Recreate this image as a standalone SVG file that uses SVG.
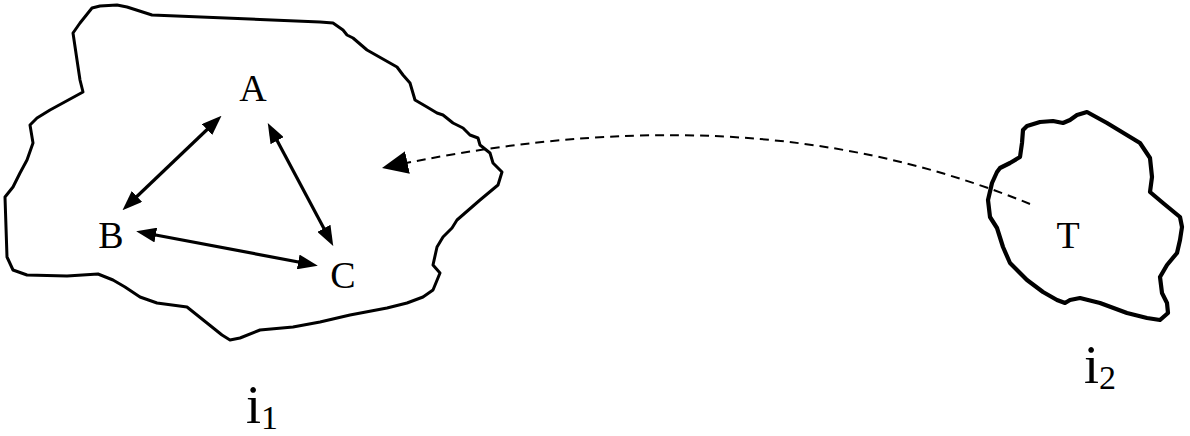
<svg xmlns="http://www.w3.org/2000/svg" width="1190" height="436" viewBox="0 0 1190 436">
<style>
.blob{fill:none;stroke:#000;stroke-linejoin:round;stroke-linecap:round}
.lbl{font-family:"Liberation Serif","Times New Roman",serif;fill:#000}
.dbl{stroke:#000;stroke-width:3.2;fill:none;marker-start:url(#ah);marker-end:url(#ah)}
</style>
<defs>
<marker id="ah" markerUnits="userSpaceOnUse" markerWidth="20" markerHeight="15" viewBox="0 0 20 15" refX="11" refY="7.5" orient="auto-start-reverse">
<path d="M0,0 L20,7.5 L0,15 z" fill="#000"/>
</marker>
<marker id="big" markerUnits="userSpaceOnUse" markerWidth="26" markerHeight="23" viewBox="0 0 25 22" refX="25" refY="11" orient="auto">
<path d="M0,0 L25,11 L0,22 z" fill="#000"/>
</marker>
</defs>
<rect width="1190" height="436" fill="#fff"/>
<g id="i1">
<path class="blob" stroke-width="3" d="M73,33 L80,23 L92,8 L100,6 L117,5 L127,7 L152,15 L320,22 L333,23 L343,30 L347,35 L353,38 L367,50 L397,67 L403,75 L410,83 L415,100 L427,107 L437,113 L443,115 L453,123 L463,128 L470,135 L478,138 L480,145 L490,153 L493,163 L502,172 L498,185 L480,200 L457,220 L452,228 L443,237 L437,247 L433,265 L440,273 L433,290 L423,297 L407,303 L387,308 L350,315 L320,322 L293,327 L260,330 L240,338 L230,340 L222,335 L207,323 L187,307 L157,303 L140,297 L125,287 L113,280 L98,274 L67,276 L27,275 L13,270 L7,257 L5,197 L13,187 L20,173 L27,160 L33,143 L30,125 L37,118 L50,110 L83,92 L80,80 L77,60 Z"/>
<text class="lbl" x="253" y="101" font-size="38" text-anchor="middle">A</text>
<text class="lbl" x="111" y="248" font-size="38" text-anchor="middle">B</text>
<text class="lbl" x="343" y="288" font-size="38" text-anchor="middle">C</text>
<text class="lbl" x="246" y="423" font-size="54">i<tspan font-size="34" dy="6">1</tspan></text>
</g>
<g id="i2">
<path class="blob" stroke-width="4.2" d="M1087,112 L1107,123 L1140,143 L1150,158 L1152,177 L1150,192 L1163,203 L1180,217 L1182,227 L1180,240 L1177,253 L1167,265 L1160,277 L1162,293 L1167,303 L1168,313 L1160,320 L1147,318 L1127,313 L1100,303 L1080,298 L1070,300 L1065,303 L1057,300 L1043,292 L1027,280 L1010,263 L1003,247 L997,228 L990,217 L988,200 L992,183 L997,172 L1000,168 L1010,163 L1020,157 L1022,143 L1023,130 L1027,126 L1040,122 L1053,121 L1063,123 L1070,120 L1077,115 Z"/>
<text class="lbl" x="1068" y="248" font-size="38" text-anchor="middle">T</text>
<text class="lbl" x="1084" y="383" font-size="54">i<tspan font-size="34" dy="6">2</tspan></text>
</g>
<g id="connectors">
<line class="dbl" x1="215" y1="122" x2="129" y2="204"/>
<line class="dbl" x1="272" y1="131" x2="329" y2="238"/>
<line class="dbl" x1="145" y1="233" x2="309" y2="264"/>
<path d="M1030,204 C880,143 680,104 382,168" fill="none" stroke="#000" stroke-width="2" stroke-dasharray="9,6" marker-end="url(#big)"/>
</g>
</svg>
